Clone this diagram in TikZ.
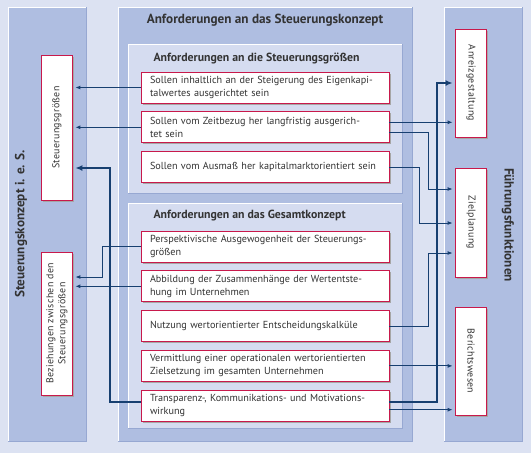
\documentclass[tikz,border=0pt]{standalone}
\usepackage{fontspec}
\setmainfont{PT Sans}
\newfontfamily\sidefont[LetterSpace=3]{PT Sans}
\usetikzlibrary{arrows.meta, positioning, shadows}
\definecolor{bg}{HTML}{DCE2F2}
\definecolor{panel}{HTML}{AFBEE1}
\definecolor{inner}{HTML}{D5DCF0}
\definecolor{edge}{HTML}{97A8D2}
\definecolor{crimson}{HTML}{C8194B}
\definecolor{navy}{HTML}{173F70}
\definecolor{txt}{HTML}{333333}

\begin{document}
\begin{tikzpicture}[x=1pt, y=-1pt, node distance=8pt, text=txt,
   font=\fontsize{10.2}{13}\selectfont,
   pane/.style={rectangle, fill=panel, inner sep=0pt, anchor=north west},
   subpane/.style={pane, fill=inner},
   head/.style={font=\bfseries\fontsize{13.2}{15}\selectfont},
   subhead/.style={anchor=west, font=\bfseries\fontsize{11.8}{13}\selectfont},
   req/.style={rectangle, draw=crimson, line width=0.8pt, fill=white,
     minimum width=248pt, minimum height=31pt, text width=230pt, align=left,
     inner xsep=9pt, drop shadow={shadow xshift=1.5pt, shadow yshift=-1.5pt,
     fill=black!35, opacity=1}},
   side/.style={rectangle, draw=crimson, line width=0.8pt, fill=white,
     minimum width=31pt, inner sep=0pt, font=\sidefont\fontsize{9.9}{12}\selectfont,
     drop shadow={shadow xshift=1.5pt, shadow yshift=-1.5pt, fill=black!35, opacity=1}},
   ar/.style={-{Latex[length=5pt, width=4pt]}, draw=navy, line width=0.9pt,
     shorten >=2.5pt},
   arb/.style={ar, line width=2pt, -{Latex[length=7pt, width=6pt]}}]
 \fill[bg] (0,0) rectangle (531,453);
 % panels
 \node[pane, minimum width=78pt, minimum height=434pt] (pl) at (8,7) {};
 \node[pane, minimum width=294pt, minimum height=434pt] (pm) at (118,7) {};
 \node[pane, minimum width=78pt, minimum height=434pt] (pr) at (444,7) {};
 \node[subpane, minimum width=274pt, minimum height=149pt] (pa) at (128,44) {};
 \node[subpane, minimum width=274pt, minimum height=225pt] (pb) at (128,203) {};
 \foreach \p in {pl, pm, pr, pa, pb} {
   \draw[edge, line width=1pt] (\p.north east) -- (\p.south east) -- (\p.south west);
   \draw[white, line width=1pt] (\p.south west) -- (\p.north west) -- (\p.north east);
 }
 % titles
 \node[head] (tm) at (265,20) {Anforderungen an das Steuerungskonzept};
 \node[head, rotate=90] (tl) at (21,224) {Steuerungskonzept i. e. S.};
 \node[head, rotate=-90] (tr) at (508,225) {Führungsfunktionen};
 \node[subhead] (ta) at (150,58) {Anforderungen an die Steuerungsgrößen};
 \node[subhead] (tb) at (150,216) {Anforderungen an das Gesamtkonzept};
 % requirements
 \node[req] (g1) at (265,87.5) {Sollen inhaltlich an der Steigerung des Eigenkapi-\\talwertes ausgerichtet sein};
 \node[req, below=of g1] (g2) {Sollen vom Zeitbezug her langfristig ausgerich-\\tet sein};
 \node[req, below=of g2] (g3) {Sollen vom Ausmaß her kapitalmarktorientiert sein};
 \node[req] (k1) at (265,246.5) {Perspektivische Ausgewogenheit der Steuerungs-\\größen};
 \node[req, below=of k1] (k2) {Abbildung der Zusammenhänge der Wertentste-\\hung im Unternehmen};
 \node[req, below=of k2] (k3) {Nutzung wertorientierter Entscheidungskalküle};
 \node[req, below=of k3] (k4) {Vermittlung einer operationalen wertorientierten\\Zielsetzung im gesamten Unternehmen};
 \node[req, below=of k4] (k5) {Transparenz-, Kommunikations- und Motivations-\\wirkung};
 % side boxes
 \node[side, minimum height=145pt] (sg) at (57,127.5) {\rotatebox{90}{Steuerungsgrößen}};
 \node[side, minimum height=143pt] (bz) at (57,323.5)
   {\rotatebox{90}{\begin{tabular}{@{}c@{}}Beziehungen zwischen den\\Steuerungsgrößen\end{tabular}}};
 \node[side, minimum height=108pt] (an) at (471,83) {\rotatebox{-90}{Anreizgestaltung}};
 \node[side, minimum height=109pt] (zp) at (471,222.5) {\rotatebox{-90}{Zielplanung}};
 \node[side, minimum height=108pt] (bw) at (471,361) {\rotatebox{-90}{Berichtswesen}};
 % bends
 \coordinate (lt) at (110,168);
 \coordinate (lp) at (102,277);
 \coordinate (r1) at (428,189);
 \coordinate (r2) at (419,223);
 \coordinate (r3) at (428,253);
 \coordinate (r4) at (437,83);
 % connectors
 \draw[ar] (g1.west) -- (g1.west -| sg.east);
 \draw[ar] (g2.west) -- (g2.west -| sg.east);
 \draw[arb] ([yshift=4pt]k5.west) -| (lt) -- (lt -| sg.east);
 \draw[ar] (k1.west) -| (lp) -- (lp -| bz.east);
 \draw[ar] (k2.west) -- (k2.west -| bz.east);
 \draw[ar] ([yshift=5pt]g2.east) -- ([yshift=5pt]g2.east -| an.west);
 \draw[ar] ([yshift=-5pt]g2.east) -| (r1) -- (r1 -| zp.west);
 \draw[ar] (g3.east) -| (r2) -- (r2 -| zp.west);
 \draw[ar] (k3.east) -| (r3) -- (r3 -| zp.west);
 \draw[ar] (k4.east) -- (k4.east -| bw.west);
 \draw[arb] ([yshift=4pt]k5.east) -| (r4) -- (r4 -| an.west);
 \draw[ar] ([yshift=-4pt]k5.east) -- ([yshift=-4pt]k5.east -| bw.west);
\end{tikzpicture}
\end{document}
